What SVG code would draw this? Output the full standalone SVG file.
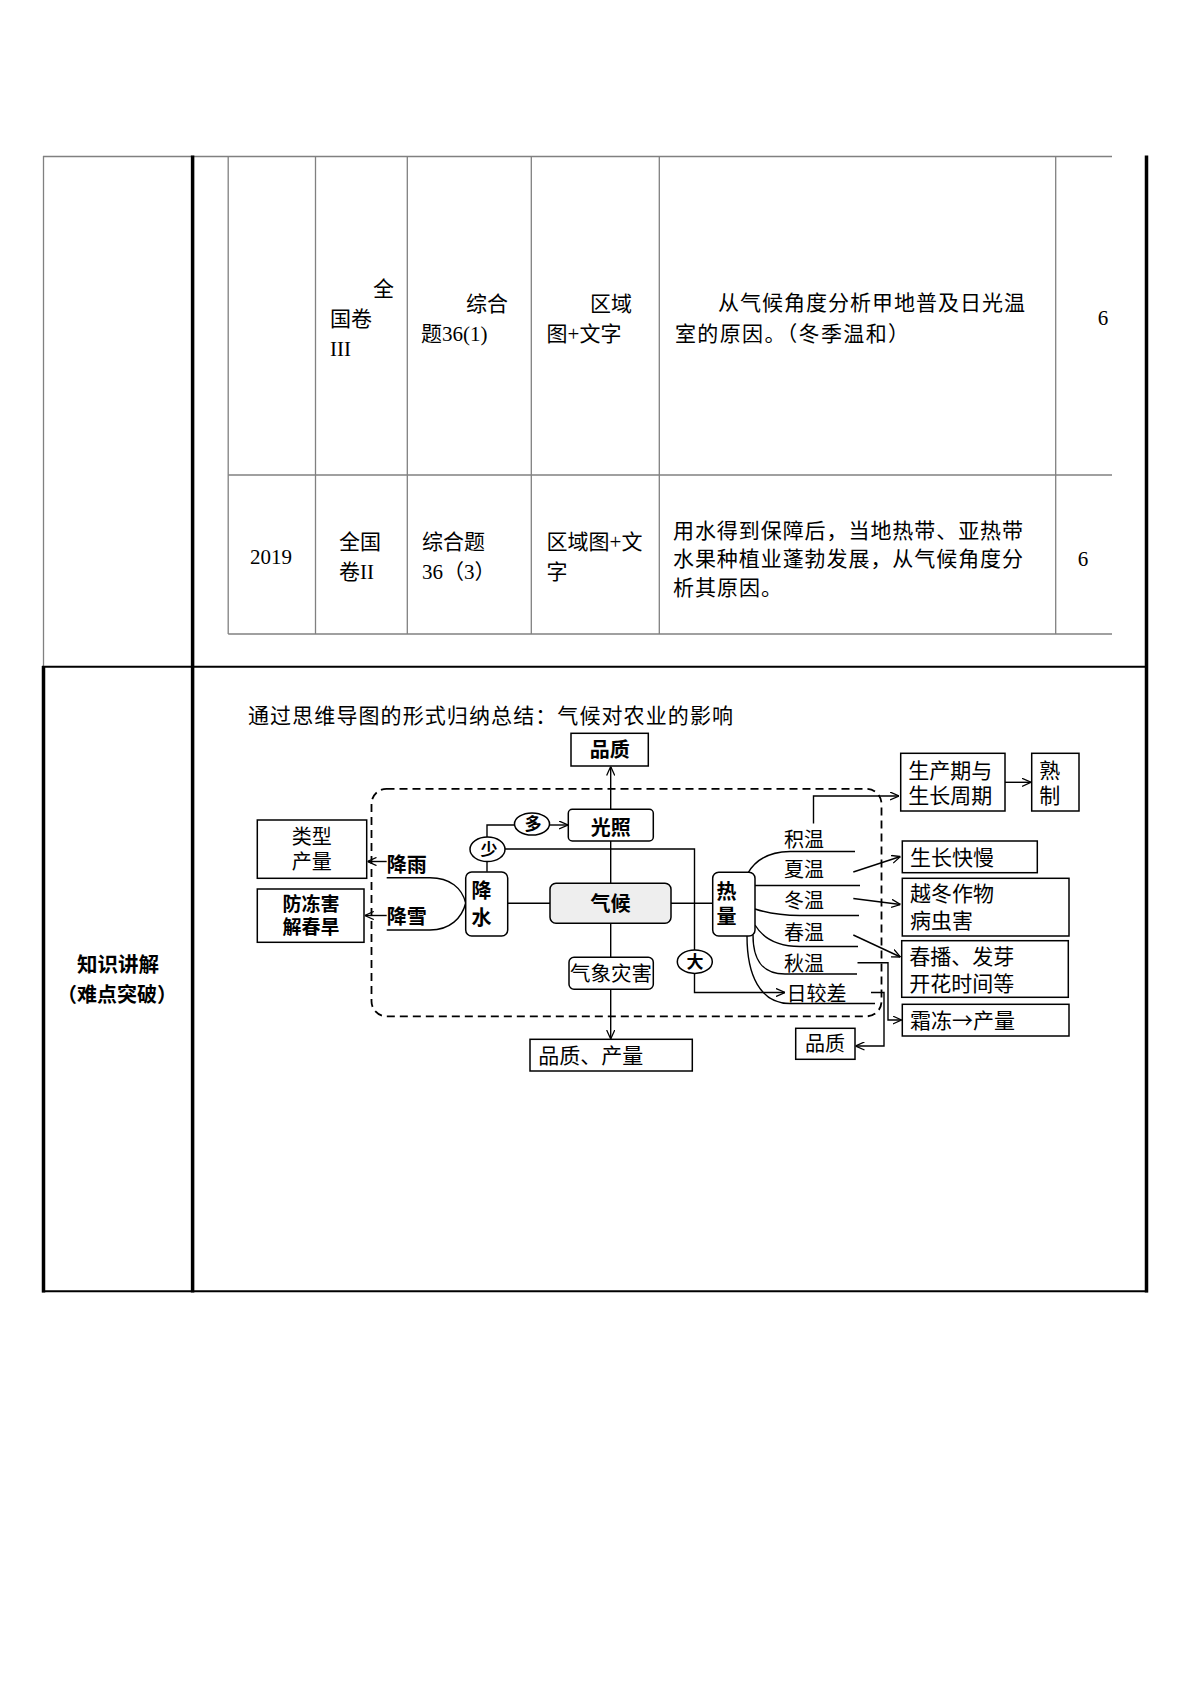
<svg xmlns="http://www.w3.org/2000/svg" width="1191" height="1684" viewBox="0 0 1191 1684">
<style>
.tx{font-family:"Liberation Serif","Noto Sans CJK SC",serif;font-size:21px;fill:#000}
.cj{font-family:"Noto Sans CJK SC",sans-serif;font-size:21px;fill:#000}
.nm{font-family:"Liberation Serif","Noto Sans CJK SC",serif;font-size:20px;fill:#000}
.bd{font-family:"Noto Sans CJK SC",sans-serif;font-weight:700;font-size:20px;fill:#000}
.el{font-family:"Noto Sans CJK SC",sans-serif;font-weight:700;font-size:17px;fill:#000}
.g{stroke:#808080;stroke-width:1.3;fill:none}
.k{stroke:#000;stroke-width:3.5;fill:none}
.kh{stroke:#000;stroke-width:2;fill:none}
.box{fill:#fff;stroke:#000;stroke-width:1.5}
.c{stroke:#000;stroke-width:1.4;fill:none}
.dash{fill:none;stroke:#000;stroke-width:1.8;stroke-dasharray:8 5}
</style>
<defs>
<marker id="ah" viewBox="0 0 10 10" refX="10" refY="5" markerWidth="9" markerHeight="9" markerUnits="userSpaceOnUse" orient="auto"><path d="M0,0.5 L10,5 L0,9.5" fill="none" stroke="#000" stroke-width="1.4"/></marker>
</defs>
<rect width="1191" height="1684" fill="#fff"/>

<g id="table">
<line class="g" x1="43" y1="156.5" x2="1112" y2="156.5"/>
<line class="g" x1="43.5" y1="156" x2="43.5" y2="667"/>
<line class="g" x1="228.2" y1="156.5" x2="228.2" y2="634"/>
<line class="g" x1="315.5" y1="156.5" x2="315.5" y2="634"/>
<line class="g" x1="407.3" y1="156.5" x2="407.3" y2="634"/>
<line class="g" x1="531.3" y1="156.5" x2="531.3" y2="634"/>
<line class="g" x1="659.3" y1="156.5" x2="659.3" y2="634"/>
<line class="g" x1="1055.7" y1="156.5" x2="1055.7" y2="634"/>
<line class="g" x1="228.2" y1="475" x2="1112" y2="475"/>
<line class="g" x1="228.2" y1="634" x2="1112" y2="634"/>
<line class="k" x1="192.6" y1="155.5" x2="192.6" y2="1292.5"/>
<line class="k" x1="1146.5" y1="155.5" x2="1146.5" y2="1292.5"/>
<line class="k" x1="43.5" y1="666" x2="43.5" y2="1292.5"/>
<line class="kh" x1="42" y1="666.7" x2="1148" y2="666.7"/>
<line class="kh" x1="42" y1="1291.3" x2="1148" y2="1291.3"/>
</g>

<g id="table-text">
<text class="tx" x="373" y="296">全</text>
<text class="tx" x="330" y="326">国卷</text>
<text class="tx" x="330" y="356">III</text>
<text class="tx" x="466" y="311">综合</text>
<text class="tx" x="421" y="341">题36(1)</text>
<text class="tx" x="590" y="311">区域</text>
<text class="tx" x="546.6" y="341">图+文字</text>
<text class="tx" x="718" y="310" textLength="307">从气候角度分析甲地普及日光温</text>
<text class="tx" x="675" y="341" textLength="234">室的原因。（冬季温和）</text>
<text class="tx" x="1103" y="325" text-anchor="middle">6</text>
<text class="tx" x="250" y="564">2019</text>
<text class="tx" x="339" y="549">全国</text>
<text class="tx" x="339" y="579">卷II</text>
<text class="tx" x="422" y="549">综合题</text>
<text class="tx" x="422" y="579">36（3）</text>
<text class="tx" x="546.6" y="549">区域图+文</text>
<text class="tx" x="546.6" y="579">字</text>
<text class="tx" x="673" y="538" textLength="350">用水得到保障后，当地热带、亚热带</text>
<text class="tx" x="673" y="566" textLength="350">水果种植业蓬勃发展，从气候角度分</text>
<text class="tx" x="673" y="595" textLength="109">析其原因。</text>
<text class="tx" x="1083" y="566" text-anchor="middle">6</text>
<text class="bd" x="118" y="971.5" text-anchor="middle" style="font-size:20.5px">知识讲解</text>
<text class="bd" x="117" y="1001.5" text-anchor="middle">（难点突破）</text>
<text class="tx" x="248" y="723" textLength="485">通过思维导图的形式归纳总结：气候对农业的影响</text>
</g>

<rect id="frame" class="dash" x="371.5" y="788.8" width="510" height="227.5" rx="15"/>

<g id="connectors">
<path class="c" d="M610.7,809.3 V766.5" marker-end="url(#ah)"/>
<path class="c" d="M610.7,841 V883.3"/>
<path class="c" d="M610.7,923.3 V957.3"/>
<path class="c" d="M610.7,989.3 V1039" marker-end="url(#ah)"/>
<path class="c" d="M507.7,903.3 H550"/>
<path class="c" d="M671,903.3 H712.7"/>
<path class="c" d="M487,861.5 V871.7"/>
<path class="c" d="M487,837 V825 H514.8"/>
<path class="c" d="M549.8,825 H568" marker-end="url(#ah)"/>
<path class="c" d="M505,849 H694.5 V950"/>
<path class="c" d="M694.5,973.4 V992.5 H785" marker-end="url(#ah)"/>
<path class="c" d="M386.7,861.5 H367.5" marker-end="url(#ah)"/>
<path class="c" d="M386.7,915.5 H364.8" marker-end="url(#ah)"/>
<path class="c" d="M386.7,877.7 H430 C450,877.7 462,888 465.7,903"/>
<path class="c" d="M386.7,930 H430 C450,930 462,918 465.7,903"/>
<path class="c" d="M748,873 Q760,852 790,851.5 H855"/>
<path class="c" d="M755,885.5 H860"/>
<path class="c" d="M755,909 Q775,915.5 800,915.5 H859"/>
<path class="c" d="M755,925 Q768,946.5 800,946.5 H858"/>
<path class="c" d="M753,935 C753,960 762,974 785,974 H857"/>
<path class="c" d="M747,936 C747,975 760,1003.5 790,1003.5 H875"/>
<path class="c" d="M813.5,823.5 V796 H899" marker-end="url(#ah)"/>
<path class="c" d="M1005,782.3 H1031" marker-end="url(#ah)"/>
<path class="c" d="M853.3,872 L900.5,856.5" marker-end="url(#ah)"/>
<path class="c" d="M853.3,898.5 L900.5,904.5" marker-end="url(#ah)"/>
<path class="c" d="M853.3,935 L900.5,957" marker-end="url(#ah)"/>
<path class="c" d="M857.5,962.7 H888 V1020 H901.5" marker-end="url(#ah)"/>
<path class="c" d="M871,992.5 H884 V1046 H855.5" marker-end="url(#ah)"/>
</g>

<g id="n-pinzhi-top"><rect class="box" x="571" y="733.3" width="77.3" height="32.7"/><text class="bd" x="609.7" y="757" text-anchor="middle">品质</text></g>
<g id="n-guangzhao"><rect class="box" x="568.3" y="809.3" width="85" height="31.7" rx="4"/><text class="bd" x="610.7" y="834.5" text-anchor="middle">光照</text></g>
<g id="n-duo"><ellipse class="box" cx="532" cy="824" rx="17.5" ry="11"/><text class="el" x="533" y="830" text-anchor="middle">多</text></g>
<g id="n-shao"><ellipse class="box" cx="487.5" cy="849.3" rx="17.5" ry="12.3"/><text class="el" x="489" y="855.5" text-anchor="middle">少</text></g>
<g id="n-da"><ellipse class="box" cx="694.8" cy="961.7" rx="17.5" ry="11.7"/><text class="el" x="695" y="968" text-anchor="middle">大</text></g>
<g id="n-jiangshui"><rect class="box" x="465.7" y="872" width="42" height="64" rx="6"/><text class="bd" x="471.5" y="898">降</text><text class="bd" x="471.5" y="925">水</text></g>
<g id="n-qihou"><rect x="550" y="883.3" width="121" height="40" rx="6" fill="#eeeeee" stroke="#000" stroke-width="1.5"/><text class="bd" x="610.5" y="911" text-anchor="middle">气候</text></g>
<g id="n-zaihai"><rect class="box" x="569" y="957.3" width="84.3" height="32" rx="5"/><text class="nm" x="570" y="981" textLength="82" style="font-size:20.5px">气象灾害</text></g>
<g id="n-pinzhi-chanliang"><rect class="box" x="530" y="1039.3" width="162.3" height="31.7"/><text class="tx" x="538.3" y="1063">品质、产量</text></g>
<g id="n-leixing"><rect class="box" x="257.3" y="820" width="109.4" height="58.3"/><text class="nm" x="311.7" y="844" text-anchor="middle">类型</text><text class="nm" x="311.7" y="869" text-anchor="middle">产量</text></g>
<g id="n-fangdong"><rect class="box" x="257.3" y="889" width="106.7" height="53.3"/><text class="bd" x="311" y="910.5" text-anchor="middle" style="font-size:19px">防冻害</text><text class="bd" x="311" y="934" text-anchor="middle" style="font-size:19px">解春旱</text></g>
<g id="n-jiangyu"><text class="bd" x="386.7" y="871.5">降雨</text></g>
<g id="n-jiangxue"><text class="bd" x="386.7" y="923.5">降雪</text></g>
<g id="n-reliang"><rect class="box" x="712.7" y="872.3" width="42.3" height="63.7" rx="6"/><text class="bd" x="716.5" y="899">热</text><text class="bd" x="716.5" y="924">量</text></g>
<g id="n-labels">
<text class="nm" x="784" y="847">积温</text>
<text class="nm" x="784" y="877">夏温</text>
<text class="nm" x="784" y="908">冬温</text>
<text class="nm" x="784" y="939.5">春温</text>
<text class="nm" x="784" y="970.5">秋温</text>
<text class="nm" x="786.5" y="1000.5">日较差</text>
</g>
<g id="n-shengchanqi"><rect class="box" x="900.7" y="753.3" width="104.3" height="57.7"/><text class="tx" x="908.3" y="778">生产期与</text><text class="tx" x="908.3" y="803">生长周期</text></g>
<g id="n-shuzhi"><rect class="box" x="1031.7" y="753.3" width="47.3" height="57.7"/><text class="tx" x="1039.3" y="778">熟</text><text class="tx" x="1039.3" y="803">制</text></g>
<g id="n-shengzhang"><rect class="box" x="902.3" y="841" width="135" height="31.7"/><text class="tx" x="910" y="864.5">生长快慢</text></g>
<g id="n-yuedong"><rect class="box" x="902.3" y="878.3" width="166.7" height="57.7"/><text class="tx" x="910" y="901">越冬作物</text><text class="tx" x="910" y="928">病虫害</text></g>
<g id="n-chunbo"><rect class="box" x="901.7" y="940.7" width="166.6" height="56.6"/><text class="tx" x="909.3" y="964">春播、发芽</text><text class="tx" x="909.3" y="990.7">开花时间等</text></g>
<g id="n-shuangdong"><rect class="box" x="902.3" y="1004.3" width="166.7" height="31.7"/><text class="cj" x="910" y="1028">霜冻→产量</text></g>
<g id="n-pinzhi-bottom"><rect class="box" x="795.7" y="1028.3" width="59.3" height="31"/><text class="nm" x="825" y="1051" text-anchor="middle">品质</text></g>
</svg>
